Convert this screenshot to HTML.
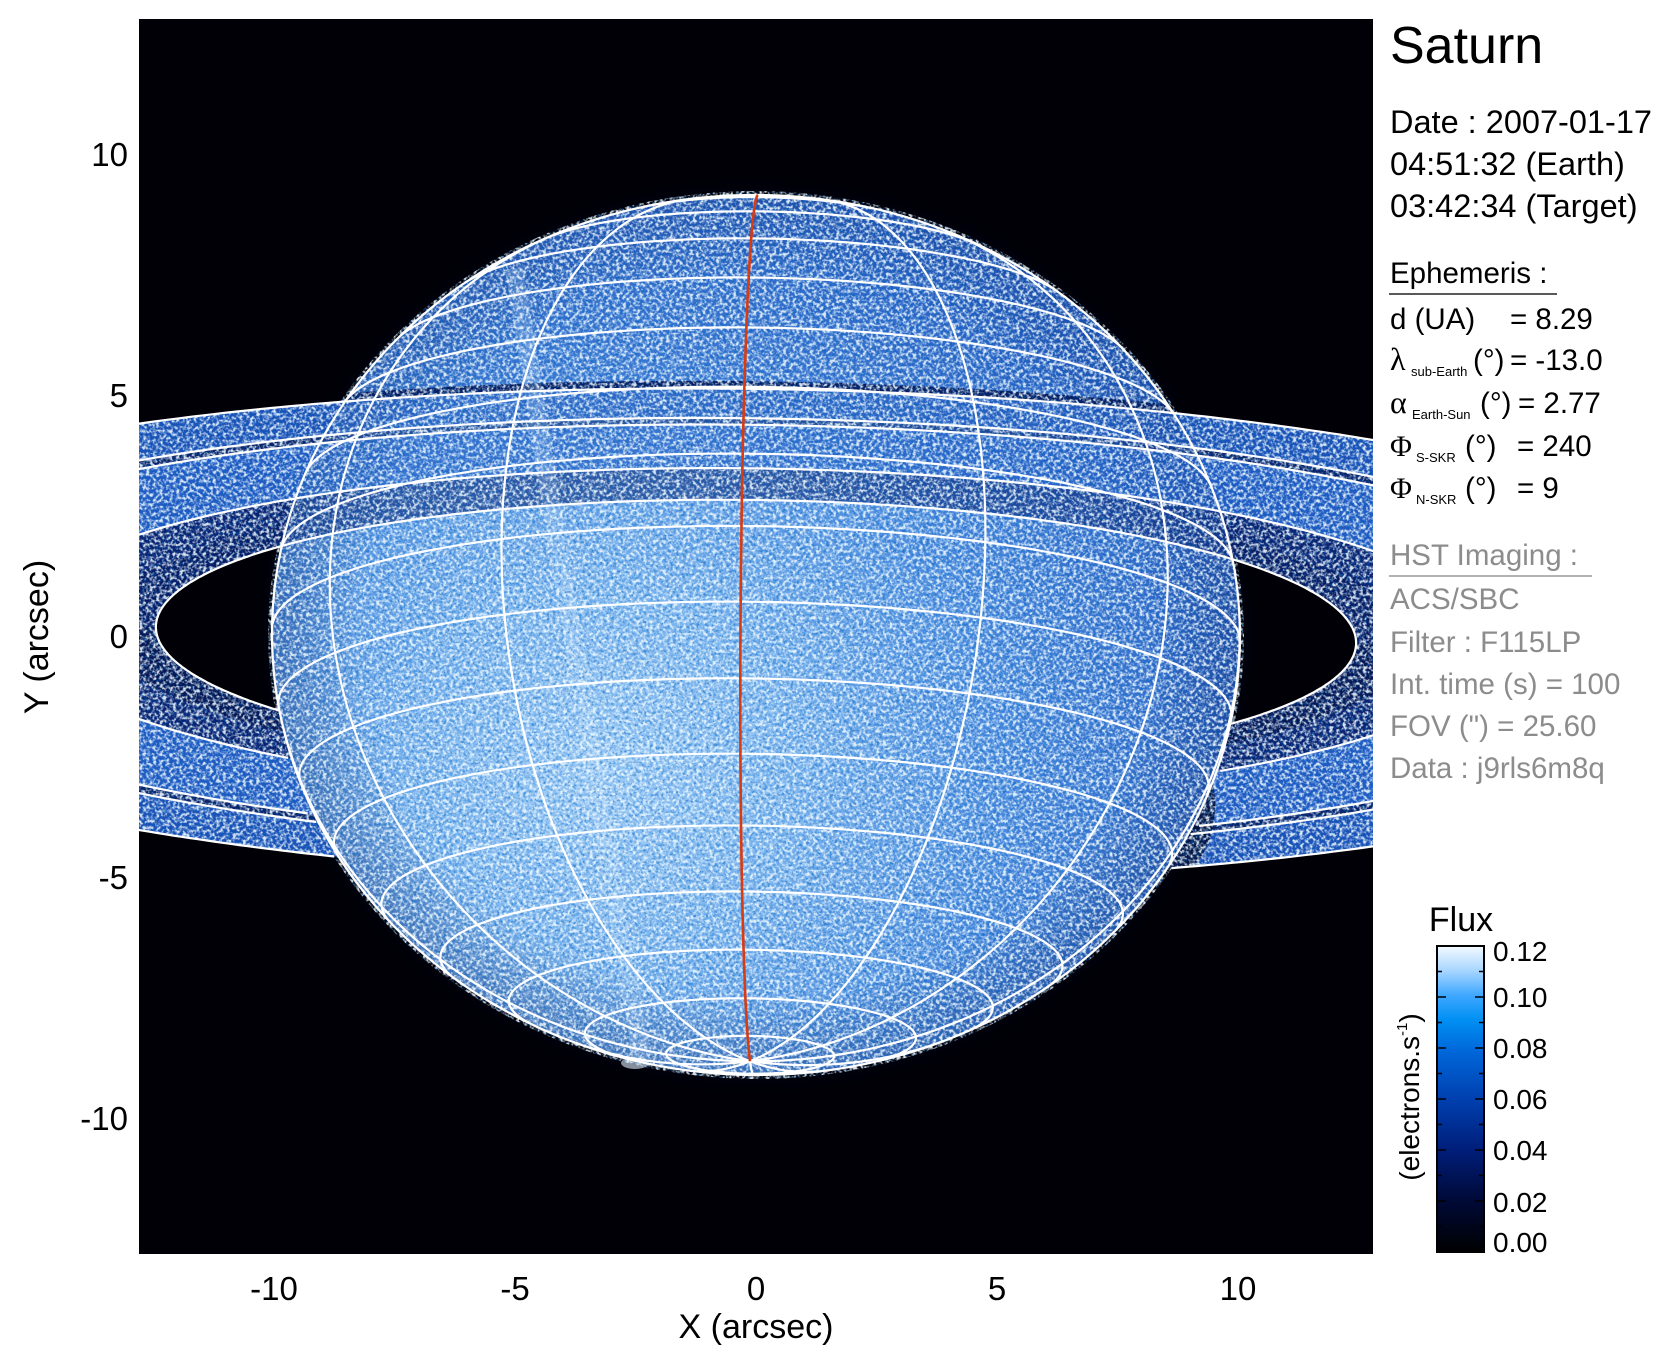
<!DOCTYPE html>
<html><head><meta charset="utf-8"><style>
html,body{margin:0;padding:0;background:#fff;}
svg{display:block;}
text{font-family:"Liberation Sans",Arial,sans-serif;}
.g{fill:#8c8c8c;}
.gr{font-family:"Liberation Serif",serif;}
</style></head><body>
<svg id="s" width="1677" height="1367" viewBox="0 0 1677 1367" xmlns="http://www.w3.org/2000/svg">
<defs>
<clipPath id="plot"><rect x="139" y="19" width="1234" height="1235"/></clipPath>
<radialGradient id="pg" cx="-150" cy="140" r="640" gradientUnits="userSpaceOnUse">
<stop offset="0" stop-color="#98c8f6"/><stop offset="0.3" stop-color="#78b2ee"/><stop offset="0.62" stop-color="#4a8ade"/><stop offset="1" stop-color="#2a62c4"/>
</radialGradient>
<radialGradient id="limb" cx="0.5" cy="0.5" r="0.5">
<stop offset="0.82" stop-color="#001050" stop-opacity="0"/><stop offset="1" stop-color="#001050" stop-opacity="0.3"/>
</radialGradient>
<radialGradient id="halo" cx="0.5" cy="0.5" r="0.5">
<stop offset="0.85" stop-color="#0a1a5a" stop-opacity="0.7"/><stop offset="1" stop-color="#000010" stop-opacity="0"/>
</radialGradient>
<linearGradient id="cb" x1="0" y1="1" x2="0" y2="0">
<stop offset="0" stop-color="#000000"/><stop offset="0.17" stop-color="#000a38"/><stop offset="0.33" stop-color="#001d78"/><stop offset="0.5" stop-color="#0040b0"/><stop offset="0.66" stop-color="#0068da"/><stop offset="0.76" stop-color="#0090f4"/><stop offset="0.84" stop-color="#40a8ff"/><stop offset="0.92" stop-color="#a8d6ff"/><stop offset="1" stop-color="#f4faff"/>
</linearGradient>
<filter id="wn" x="0" y="0" width="1" height="1">
<feTurbulence type="fractalNoise" baseFrequency="0.3" numOctaves="2" seed="7"/>
<feColorMatrix type="matrix" values="0 0 0 0 0.85  0 0 0 0 0.95  0 0 0 0 1  3.4 0 0 0 -1.45"/>
</filter>
<filter id="dn" x="0" y="0" width="1" height="1">
<feTurbulence type="fractalNoise" baseFrequency="0.34" numOctaves="2" seed="21"/>
<feColorMatrix type="matrix" values="0 0 0 0 0  0 0 0 0 0.12  0 0 0 0 0.5  0 3.4 0 0 -1.55"/>
</filter>
</defs>
<rect x="139" y="19" width="1234" height="1235" fill="#000006"/>
<g id="img" clip-path="url(#plot)"></g>
<rect x="1437" y="946" width="47" height="306" fill="url(#cb)" stroke="#000" stroke-width="2"/>
<g id="cbt" stroke="#000" stroke-width="1.5"></g>
<g font-size="33" text-anchor="middle">
<text x="274" y="1300">-10</text><text x="515" y="1300">-5</text><text x="756" y="1300">0</text><text x="997" y="1300">5</text><text x="1238" y="1300">10</text>
</g>
<text x="756" y="1338" font-size="34" text-anchor="middle">X (arcsec)</text>
<g font-size="33" text-anchor="end">
<text x="128" y="166">10</text><text x="128" y="407">5</text><text x="128" y="648">0</text><text x="128" y="889">-5</text><text x="128" y="1130">-10</text>
</g>
<text transform="translate(48,637) rotate(-90)" font-size="34" text-anchor="middle">Y (arcsec)</text>
<text x="1390" y="63" font-size="52">Saturn</text>
<g font-size="32.5">
<text x="1390" y="133">Date : 2007-01-17</text>
<text x="1390" y="175">04:51:32 (Earth)</text>
<text x="1390" y="217">03:42:34 (Target)</text>
</g>
<g font-size="29.5">
<text x="1390" y="283">Ephemeris :</text>
<text x="1390" y="329">d (UA)</text><text x="1510" y="329">= 8.29</text>
<text x="1390" y="370" class="gr" font-size="32">λ</text><text x="1411" y="376" font-size="13">sub-Earth</text><text x="1473" y="370">(°)</text><text x="1510" y="370">= -13.0</text>
<text x="1390" y="413" class="gr" font-size="32">α</text><text x="1412" y="419" font-size="13">Earth-Sun</text><text x="1480" y="413">(°)</text><text x="1518" y="413">= 2.77</text>
<text x="1390" y="456" class="gr" font-size="30">Φ</text><text x="1416" y="462" font-size="13">S-SKR</text><text x="1465" y="456">(°)</text><text x="1517" y="456">= 240</text>
<text x="1390" y="498" class="gr" font-size="30">Φ</text><text x="1416" y="504" font-size="13">N-SKR</text><text x="1465" y="498">(°)</text><text x="1517" y="498">= 9</text>
</g>
<line x1="1389" y1="294" x2="1557" y2="294" stroke="#222" stroke-width="1.5"/>
<g font-size="29.5" class="g">
<text x="1390" y="565" class="g">HST Imaging :</text>
<text x="1390" y="609" class="g">ACS/SBC</text>
<text x="1390" y="652" class="g">Filter : F115LP</text>
<text x="1390" y="694" class="g">Int. time (s) = 100</text>
<text x="1390" y="736" class="g">FOV (") = 25.60</text>
<text x="1390" y="778" class="g">Data : j9rls6m8q</text>
</g>
<line x1="1389" y1="576" x2="1592" y2="576" stroke="#999" stroke-width="1.5"/>
<text x="1461" y="931" font-size="34" text-anchor="middle">Flux</text>
<g font-size="28">
<text x="1493" y="961">0.12</text><text x="1493" y="1007">0.10</text><text x="1493" y="1058">0.08</text><text x="1493" y="1109">0.06</text><text x="1493" y="1160">0.04</text><text x="1493" y="1212">0.02</text><text x="1493" y="1252">0.00</text>
</g>
<text transform="translate(1419,1097) rotate(-90)" font-size="28" text-anchor="middle">(electrons.s<tspan font-size="15" dy="-12">-1</tspan><tspan dy="12">)</tspan></text>
</svg>
<script>
(function(){
var cx=756, cy=635, Re=484, Rp=Re*0.904, B=-13*Math.PI/180, rd=0.8, r=rd*Math.PI/180;
var sB=Math.sin(B), cB=Math.cos(B), sr=Math.sin(r), cr=Math.cos(r);
var Ry=Math.sqrt(Rp*Rp*cB*cB+Re*Re*sB*sB);
var k=Math.abs(sB);
function scr(x,y,z){var Y=y*cB-z*sB, X=x, s0=-Y; return [cx+X*cr-s0*sr, cy+X*sr+s0*cr];}
function vis(x,y,z){return y*sB/(Rp*Rp)+z*cB/(Re*Re)>0;}
function inSil(x,y,z){var Y=y*cB-z*sB;return (x/Re)*(x/Re)+(Y/Ry)*(Y/Ry)<1;}
function ell(a){var b=a*k;return 'M'+(-a)+' 0A'+a+' '+b+' 0 1 0 '+a+' 0A'+a+' '+b+' 0 1 0 '+(-a)+' 0Z';}
function ann(a1,a2){return ell(a2)+ell(a1);}
var R=function(f){return f*Re;};
var T='translate('+cx+','+cy+') rotate('+rd+')';
var h='';
h+='<defs><clipPath id="pl"><ellipse cx="0" cy="0" rx="'+Re+'" ry="'+Ry+'" transform="'+T+'"/></clipPath>';
h+='<clipPath id="up"><rect x="-1400" y="-400" width="2800" height="400" transform="'+T+'"/></clipPath>';
h+='<clipPath id="rg"><path clip-rule="evenodd" transform="'+T+'" d="'+ann(R(1.24),R(2.26))+'"/></clipPath>';
h+='<clipPath id="all"><ellipse cx="0" cy="0" rx="'+(Re+4)+'" ry="'+(Ry+4)+'" transform="'+T+'"/><path clip-rule="evenodd" transform="'+T+'" d="'+ann(R(1.24),R(2.26))+'"/></clipPath></defs>';
h+='<ellipse cx="0" cy="0" rx="'+(Re+22)+'" ry="'+(Ry+22)+'" fill="url(#halo)" transform="'+T+'"/>';
function rings(op){
 var s='<g transform="'+T+'" fill-rule="evenodd" opacity="'+op+'">';
 s+='<path d="'+ann(R(1.99),R(2.26))+'" fill="#1c52b8"/>';
 s+='<path d="'+ann(R(1.93),R(1.99))+'" fill="#0a2268"/>';
 s+='<path d="'+ann(R(1.53),R(1.93))+'" fill="#225cc4"/>';
 s+='<path d="'+ann(R(1.24),R(1.53))+'" fill="#0a2270"/>';
 s+='</g>';return s;}
h+=rings(1);
h+='<path transform="'+T+'" fill-rule="evenodd" d="'+ann(R(1.24),R(1.36))+'" fill="#030f40" opacity="0.6"/>';
h+='<g clip-path="url(#rg)"><ellipse cx="1165" cy="805" rx="50" ry="75" fill="#020a30" opacity="0.85"/></g>';
h+='<ellipse cx="0" cy="0" rx="'+Re+'" ry="'+Ry+'" fill="url(#pg)" transform="'+T+'"/>';
h+='<ellipse cx="0" cy="0" rx="'+Re+'" ry="'+Ry+'" fill="url(#limb)" transform="'+T+'"/>';
h+='<g clip-path="url(#pl)"><rect x="200" y="150" width="1150" height="240" fill="#1d56bc" opacity="0.3"/></g>';
h+='<g clip-path="url(#pl)"><g clip-path="url(#up)"><path transform="'+T+'" fill-rule="evenodd" d="'+ann(R(2.26),R(2.33))+'" fill="#061c60"/></g></g>';
h+='<g clip-path="url(#up)">'+rings(0.55)+'</g>';
h+='<g clip-path="url(#pl)"><path d="M514 268 L560 560 L642 1060" stroke="#d0e8ff" stroke-width="18" fill="none" opacity="0.25"/></g>';
h+='<ellipse cx="635" cy="1063" rx="14" ry="6" fill="#e0f0ff" opacity="0.6"/>';
h+='<g clip-path="url(#all)"><rect x="139" y="19" width="1234" height="1235" filter="url(#dn)" opacity="0.5"/><rect x="139" y="19" width="1234" height="1235" filter="url(#wn)" opacity="0.9"/></g>';
function segs(pts){var s='',open=false;for(var i=0;i<pts.length;i++){var p=pts[i];if(!p){open=false;continue;}s+=(open?'L':'M')+p[0].toFixed(1)+' '+p[1].toFixed(1);open=true;}return s;}
var d='';
for(var lat=-80;lat<=80;lat+=10){var u=lat*Math.PI/180,pts=[];for(var l=0;l<=360;l+=2){var L=l*Math.PI/180,x=Re*Math.cos(u)*Math.sin(L),y=Rp*Math.sin(u),z=Re*Math.cos(u)*Math.cos(L);pts.push(vis(x,y,z)?scr(x,y,z):null);}d+=segs(pts);}
var l0=-1.9, dr='';
for(var m=0;m<12;m++){var L=(l0+30*m)*Math.PI/180,pts=[];for(var la=-90;la<=90;la+=1){var u=la*Math.PI/180,x=Re*Math.cos(u)*Math.sin(L),y=Rp*Math.sin(u),z=Re*Math.cos(u)*Math.cos(L);pts.push(vis(x,y,z)?scr(x,y,z):null);}if(m==0)dr=segs(pts);else d+=segs(pts);}
var lp=[];for(var t=0;t<=360;t+=1){var a=t*Math.PI/180;var X=Re*Math.cos(a),Y=Ry*Math.sin(a);lp.push([cx+X*cr+Y*sr,cy+X*sr-Y*cr]);}d+=segs(lp);
var rr=[1.24,1.53,1.93,1.99,2.26];
for(var i=0;i<rr.length;i++){var a=R(rr[i]),pts=[];for(var l=0;l<=360;l+=0.5){var L=l*Math.PI/180,x=a*Math.sin(L),z=a*Math.cos(L);var hid=(z<0&&inSil(x,0,z));pts.push(hid?null:scr(x,0,z));}d+=segs(pts);}
h+='<path d="'+d+'" stroke="#fff" stroke-width="2.2" fill="none"/>';
h+='<path d="'+dr+'" stroke="#d83a12" stroke-width="2.6" fill="none"/>';
document.getElementById('img').innerHTML=h;
var c='';for(var v=0;v<=12;v++){var y=1252-v/12*306;var len=(v%2==0)?9:5;c+='<line x1="'+(1484-len)+'" y1="'+y+'" x2="1484" y2="'+y+'"/><line x1="1437" y1="'+y+'" x2="'+(1437+len)+'" y2="'+y+'"/>';}
document.getElementById('cbt').innerHTML=c;
})();
</script>
</body></html>
